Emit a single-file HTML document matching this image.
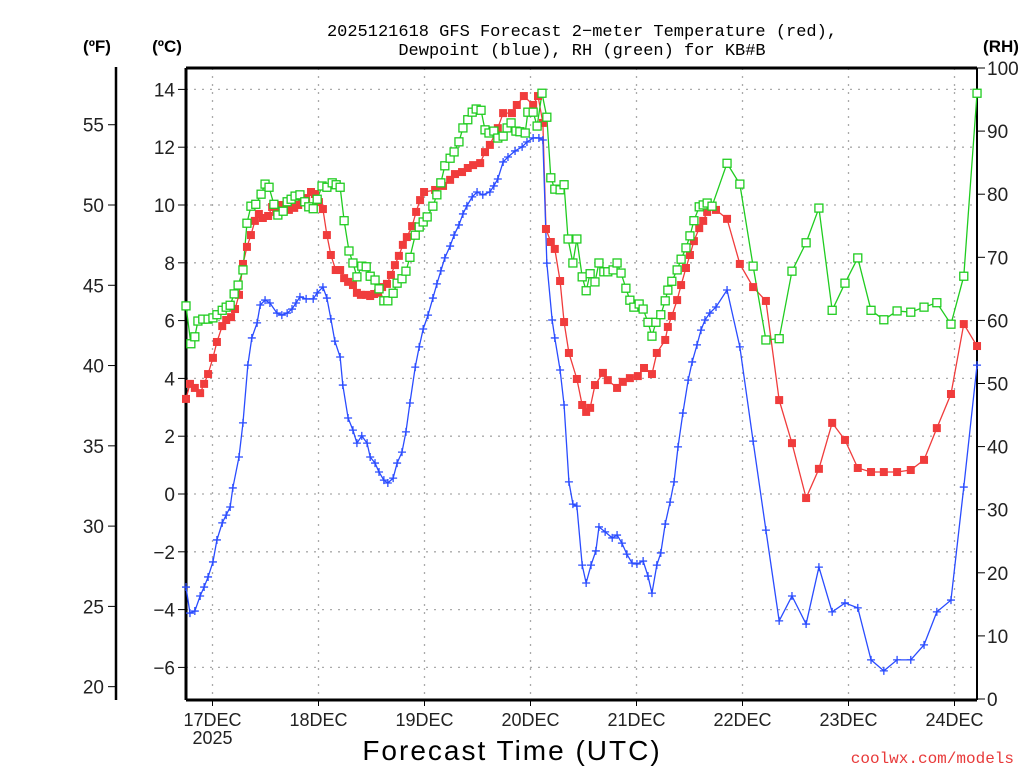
<!DOCTYPE html>
<html><head><meta charset="utf-8"><style>
html,body{margin:0;padding:0;background:#fff;}
svg{display:block;font-family:"Liberation Sans",sans-serif;}
</style></head><body>
<svg id="chart" width="1024" height="768" viewBox="0 0 1024 768" xmlns="http://www.w3.org/2000/svg">
<rect width="1024" height="768" fill="#fff"/>
<g id="grid"></g>
<g id="axes"></g>
<g id="series"></g>
<text x="582" y="36" font-size="17" text-anchor="middle" fill="#000" font-family="Liberation Mono, monospace">2025121618 GFS Forecast 2−meter Temperature (red),</text>
<text x="582" y="55" font-size="17" text-anchor="middle" fill="#000" font-family="Liberation Mono, monospace">Dewpoint (blue), RH (green) for KB#B</text>
<text x="97" y="52" font-size="17" font-weight="bold" text-anchor="middle">(ºF)</text>
<text x="167" y="52" font-size="17" font-weight="bold" text-anchor="middle">(ºC)</text>
<text x="1001" y="52" font-size="17" font-weight="bold" text-anchor="middle">(RH)</text>
<text x="512" y="760" font-size="28" text-anchor="middle" letter-spacing="2">Forecast Time (UTC)</text>
<text x="1014" y="763" font-size="16" text-anchor="end" fill="#e83a3a" font-family="Liberation Mono, monospace">coolwx.com/models</text>
</svg>
<script>
const hoursT=[0,0.9,2.0,3.2,4.1,5.0,6.1,7.0,8.2,9.1,10.2,11.1,12.0,12.9,13.8,14.7,15.6,16.5,17.4,18.6,19.5,20.4,21.5,22.4,23.3,24.5,25.4,26.3,27.2,28.3,29.2,30.1,31.0,31.9,32.8,33.9,34.9,35.8,36.7,37.8,38.7,39.6,40.8,41.7,42.6,43.5,44.4,45.5,46.4,47.3,48.2,49.1,50.0,51.2,52.1,53.0,53.9,56.4,58.2,59.8,60.9,62.5,63.8,65.0,66.6,67.7,68.8,70.6,71.8,73.8,74.9,76.5,78.6,79.7,80.8,81.5,82.6,83.5,84.7,85.6,86.7,88.5,89.7,90.6,91.5,92.6,94.4,95.5,97.6,98.9,100.5,102.3,103.7,105.5,106.6,108.5,109.1,110.0,111.2,112.1,113.2,114.1,115.0,116.2,117.1,118.0,119.1,120.0,122.5,125.4,128.4,131.3,134.3,137.2,140.4,143.3,146.3,149.2,152.1,155.1,158.0,161.0,164.1,167.1,170.0,173.2,176.1,179.1];
const tempC=[3.29,3.81,3.67,3.49,3.81,4.15,4.71,5.26,5.81,6.02,6.12,6.40,6.89,7.96,8.55,8.96,9.45,9.69,9.55,9.62,9.93,9.76,10.0,9.93,9.83,9.90,10.0,10.1,10.24,10.45,10.38,10.1,9.86,8.96,8.27,7.75,7.75,7.47,7.34,7.23,6.96,6.89,6.89,6.85,6.92,6.96,7.16,7.27,7.58,7.92,8.24,8.62,8.89,9.27,9.76,10.17,10.45,10.52,10.66,10.87,11.07,11.14,11.28,11.38,11.45,11.83,12.08,12.66,13.18,13.18,13.46,13.77,13.46,13.77,12.84,9.17,8.72,8.48,7.37,5.95,4.88,3.98,3.08,2.84,2.98,3.77,4.19,3.94,3.67,3.88,4.01,4.08,4.36,4.15,4.88,5.33,5.78,6.16,6.71,7.23,7.82,8.27,8.75,9.20,9.45,9.76,9.97,9.83,9.52,7.96,7.16,6.68,3.25,1.76,-0.14,0.87,2.46,1.87,0.90,0.76,0.76,0.76,0.83,1.18,2.28,3.46,5.88,5.12];
const hoursD=[0,0.9,2.0,3.2,4.1,5.0,6.1,7.0,8.2,9.1,10.0,10.6,12.0,12.9,14.0,14.9,16.1,16.8,17.9,19.0,20.6,21.7,22.9,24.0,24.9,25.8,27.2,28.8,29.7,31.0,31.9,32.8,33.7,34.9,35.5,36.7,37.8,38.7,39.8,41.0,41.7,42.8,43.7,44.8,45.7,46.9,47.8,48.9,49.8,50.7,51.9,52.8,53.7,54.8,55.9,56.8,57.7,58.6,59.8,60.7,61.8,62.7,63.6,64.8,65.9,67.2,68.8,69.7,70.6,71.8,72.9,74.5,76.1,77.2,78.6,79.9,80.8,81.7,82.9,83.5,84.7,85.6,86.7,87.6,88.5,89.7,90.6,91.7,92.8,93.5,94.9,96.5,97.6,98.7,99.8,101.0,102.1,103.5,104.6,105.5,106.6,107.5,108.5,109.6,110.5,111.4,112.5,113.7,114.6,115.7,116.6,117.5,118.6,120.0,122.5,125.4,128.4,131.3,134.3,137.2,140.4,143.3,146.3,149.2,152.1,155.1,158.0,161.0,164.1,167.1,170.0,173.2,176.1,179.1];
const dewC=[-3.22,-4.12,-4.05,-3.53,-3.22,-2.87,-2.35,-1.59,-1.0,-0.73,-0.45,0.21,1.28,2.46,4.46,5.4,5.92,6.54,6.71,6.61,6.26,6.19,6.26,6.4,6.61,6.82,6.75,6.75,6.96,7.16,6.78,6.06,5.29,4.74,3.77,2.63,2.21,1.76,2.01,1.76,1.28,1.07,0.76,0.48,0.38,0.55,1.07,1.45,2.15,3.15,4.39,5.09,5.71,6.19,6.78,7.27,7.72,8.17,8.58,8.96,9.31,9.69,9.97,10.28,10.45,10.35,10.45,10.66,10.9,11.49,11.66,11.87,12.01,12.18,12.32,12.32,12.25,7.99,6.02,5.4,4.29,3.08,0.42,-0.35,-0.42,-2.46,-3.08,-2.46,-1.97,-1.14,-1.31,-1.52,-1.42,-1.7,-2.08,-2.39,-2.42,-2.32,-2.84,-3.43,-2.46,-2.04,-1.04,-0.28,0.42,1.63,2.8,3.94,4.57,5.16,5.67,6.02,6.26,6.47,7.06,5.09,1.83,-1.25,-4.39,-3.53,-4.5,-2.53,-4.08,-3.77,-3.94,-5.74,-6.12,-5.74,-5.74,-5.22,-4.08,-3.67,0.24,4.46];
const hoursRH=[0,1.1,2.0,2.7,3.8,5.0,6.1,7.0,8.2,9.1,10.0,10.9,11.8,12.9,13.8,14.7,15.8,17.0,17.9,18.8,19.9,20.8,22.0,22.9,23.8,24.7,25.8,26.9,27.8,28.8,29.7,30.8,31.9,33.1,34.0,34.9,35.8,36.9,37.8,38.7,39.8,40.8,41.7,42.8,43.7,44.8,45.7,46.9,47.8,48.9,49.8,50.7,51.9,52.8,53.7,54.6,55.9,56.8,57.7,58.6,59.8,60.7,61.8,62.7,63.8,64.8,65.7,66.8,67.7,68.6,69.7,70.6,71.8,72.7,73.6,74.7,75.6,76.8,77.4,78.6,79.5,80.6,81.7,82.6,83.5,84.7,85.6,86.5,87.6,88.5,89.7,90.6,91.5,92.6,93.5,94.6,95.5,96.7,97.6,98.5,99.6,100.5,101.4,102.6,103.5,104.6,105.5,106.4,107.5,108.5,109.1,110.0,111.2,112.1,113.2,114.1,115.0,116.2,117.1,118.0,119.1,122.5,125.4,128.4,131.3,134.3,137.2,140.4,143.3,146.3,149.2,152.1,155.1,158.0,161.0,164.1,167.1,170.0,173.2,176.1,179.1];
const rh=[62.3,56.3,57.4,59.9,60.2,60.2,60.4,60.9,61.6,62.1,62.4,64.2,65.6,68.0,75.4,78.1,78.4,80.0,81.6,81.1,78.4,76.7,77.3,78.8,79.2,79.7,79.9,78.8,78.0,77.7,79.2,81.3,81.1,81.8,81.5,81.1,75.8,71.0,69.1,66.9,68.6,68.5,67.0,66.4,65.0,63.1,63.1,64.3,65.9,66.6,67.8,70.0,73.5,74.8,75.6,76.4,78.1,79.9,81.8,84.5,85.7,86.7,88.3,90.5,91.8,93.0,93.5,93.3,90.2,89.7,90.0,88.9,89.2,90.5,91.3,90.0,89.9,89.7,93.0,93.0,90.8,96.0,92.2,82.6,80.8,80.7,81.5,72.9,69.1,72.9,66.9,64.7,67.4,66.1,69.1,67.7,67.7,68.0,69.1,67.5,65.1,63.2,62.1,62.6,61.8,59.7,57.5,59.7,60.9,63.1,64.8,66.2,68.0,69.7,71.5,73.4,75.8,78.0,78.3,78.6,78.1,84.9,81.6,68.6,56.9,57.1,67.8,72.3,77.8,61.6,65.9,69.9,61.6,60.1,61.5,61.3,62.1,62.8,59.4,67.0,96.0];
const cTicks=[-6,-4,-2,0,2,4,6,8,10,12,14];
const fTicks=[20,25,30,35,40,45,50,55];
const rhTicks=[0,10,20,30,40,50,60,70,80,90,100];
const dayLabels=["17DEC","18DEC","19DEC","20DEC","21DEC","22DEC","23DEC","24DEC"];
const dayHours=[6,30,54,78,102,126,150,174];

const NS="http://www.w3.org/2000/svg";
const L=186,R=977,T=68,B=700;
const xS=h=>186+h*4.4167;
const yC=c=>494-c*28.9;
const yF=f=>yC((f-32)*5/9);
const yRH=r=>699-r*6.31;
function mk(tag,attrs,parent){const e=document.createElementNS(NS,tag);for(const k in attrs)e.setAttribute(k,attrs[k]);parent.appendChild(e);return e;}
const grid=document.getElementById('grid'),axes=document.getElementById('axes'),ser=document.getElementById('series');

cTicks.forEach(c=>{
  const y=yC(c);
  const g=mk('line',{x1:L,x2:R,y1:y,y2:y,stroke:'#aaa','stroke-width':1.3,'stroke-dasharray':'2 6'},grid);
  
  
  mk('line',{x1:L-8,x2:L,y1:y,y2:y,stroke:'#000','stroke-width':1},axes);
  const t=mk('text',{x:L-11,y:y+7,'font-size':19,'text-anchor':'end',fill:'#222'},axes);
  t.textContent=(c<0?'−':'')+Math.abs(c);
  
  
});
dayHours.forEach((h,i)=>{
  const x=xS(h);
  const g=mk('line',{x1:x,x2:x,y1:T,y2:B,stroke:'#aaa','stroke-width':1.3,'stroke-dasharray':'2 6'},grid);
  
  
  mk('line',{x1:x,x2:x,y1:B,y2:B+6,stroke:'#000','stroke-width':1},axes);
  const t=mk('text',{x:x,y:B+26,'font-size':18,'text-anchor':'middle',fill:'#222'},axes);
  t.textContent=dayLabels[i];
  
  
});
const yr=mk('text',{x:xS(dayHours[0]),y:B+44,'font-size':18,'text-anchor':'middle',fill:'#222'},axes);
yr.textContent='2025';


fTicks.forEach(f=>{
  const y=yF(f);
  mk('line',{x1:108,x2:116,y1:y,y2:y,stroke:'#000','stroke-width':1},axes);
  const t=mk('text',{x:104,y:y+7,'font-size':19,'text-anchor':'end',fill:'#222'},axes);
  t.textContent=f;
  
  
});
rhTicks.forEach(r=>{
  const y=yRH(r);
  mk('line',{x1:R,x2:R+8,y1:y,y2:y,stroke:'#000','stroke-width':1},axes);
  const t=mk('text',{x:R+10,y:y+7,'font-size':19,'text-anchor':'start',fill:'#222'},axes);
  t.textContent=r;
  
  
});
mk('line',{x1:116,x2:116,y1:67,y2:700,stroke:'#000','stroke-width':2.5},axes);
mk('line',{x1:L,x2:R,y1:T,y2:T,stroke:'#000','stroke-width':3},axes);
mk('line',{x1:L,x2:R,y1:B,y2:B,stroke:'#000','stroke-width':3},axes);
mk('line',{x1:L,x2:L,y1:T,y2:B,stroke:'#000','stroke-width':3},axes);
mk('line',{x1:R,x2:R,y1:T,y2:B,stroke:'#000','stroke-width':2},axes);

function drawLine(hs,vs,yf,color,name){
  const p=mk('polyline',{points:hs.map((h,i)=>xS(h)+','+yf(vs[i])).join(' '),fill:'none',stroke:color,'stroke-width':1.3},ser);
  
  
}
drawLine(hoursT,tempC,yC,'#f03c3c','temperature');
drawLine(hoursD,dewC,yC,'#2a4cff','dewpoint');
drawLine(hoursRH,rh,yRH,'#20cc20','rh');
hoursT.forEach((h,i)=>{
  const m=mk('rect',{x:xS(h)-4,y:yC(tempC[i])-4,width:8,height:8,fill:'#f03c3c'},ser);
  
  
});
hoursD.forEach((h,i)=>{
  const x=xS(h),y=yC(dewC[i]);
  const m=mk('path',{d:`M${x-4},${y}H${x+4}M${x},${y-4}V${y+4}`,stroke:'#2a4cff','stroke-width':1.3},ser);
  
  
});
hoursRH.forEach((h,i)=>{
  const m=mk('rect',{x:xS(h)-4,y:yRH(rh[i])-4,width:8,height:8,fill:'#fff',stroke:'#20cc20','stroke-width':1.3},ser);
  
  
});
</script>
</body></html>
